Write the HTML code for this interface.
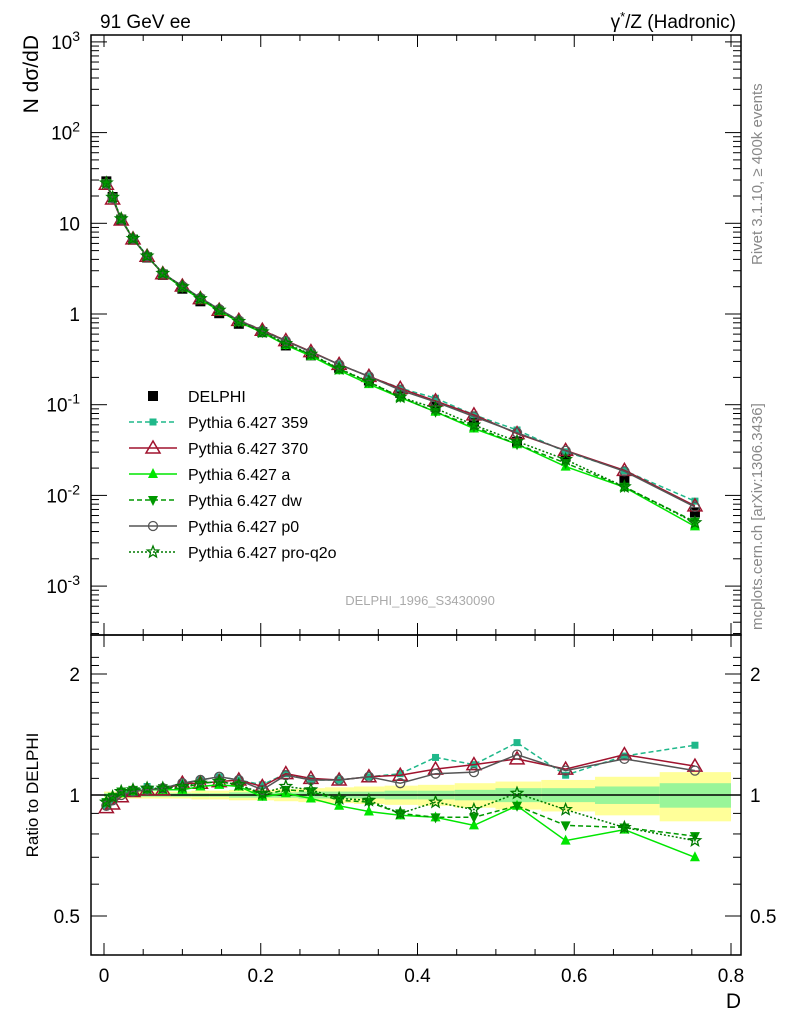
<!DOCTYPE html>
<html><head><meta charset="utf-8"><style>
body{margin:0;background:#fff;}
svg{display:block;font-family:"Liberation Sans",sans-serif;}
</style></head><body>
<svg id="c" width="786" height="1024" viewBox="0 0 786 1024"></svg>
<script>
const D=[0.003,0.011,0.022,0.037,0.055,0.075,0.1,0.123,0.147,0.172,0.202,0.232,0.264,0.3,0.338,0.378,0.423,0.472,0.527,0.589,0.664,0.754];
const dataVals=[29,19.5,11,6.6,4.2,2.7,1.9,1.38,1.02,0.78,0.63,0.45,0.35,0.255,0.185,0.135,0.095,0.065,0.039,0.027,0.015,0.0065];
const r359=[0.94,0.97,1.01,1.03,1.05,1.04,1.07,1.09,1.11,1.09,1.06,1.13,1.09,1.09,1.11,1.13,1.24,1.19,1.35,1.12,1.25,1.33];
const r370=[0.93,0.95,0.99,1.02,1.03,1.03,1.07,1.07,1.08,1.09,1.05,1.13,1.10,1.09,1.11,1.12,1.16,1.19,1.23,1.16,1.26,1.18];
const rA=[0.96,0.99,1.01,1.02,1.03,1.03,1.03,1.05,1.06,1.05,0.99,1.01,0.98,0.94,0.91,0.89,0.88,0.84,0.94,0.77,0.82,0.70];
const rDW=[0.96,0.99,1.02,1.03,1.03,1.04,1.04,1.07,1.08,1.06,1.00,1.03,1.02,0.97,0.96,0.90,0.88,0.88,0.94,0.84,0.83,0.79];
const rP0=[0.94,0.97,1.00,1.02,1.03,1.04,1.07,1.09,1.11,1.09,1.03,1.12,1.09,1.09,1.11,1.07,1.13,1.14,1.26,1.15,1.23,1.15];
const rQ2O=[0.96,0.99,1.02,1.03,1.04,1.04,1.05,1.07,1.08,1.06,1.01,1.05,1.03,0.98,0.97,0.90,0.96,0.92,1.01,0.92,0.83,0.77];
const bandYellow=[0.02,0.02,0.02,0.02,0.02,0.02,0.02,0.025,0.025,0.03,0.03,0.035,0.04,0.045,0.05,0.055,0.06,0.07,0.08,0.09,0.11,0.14];
const bandGreen=[0.01,0.01,0.01,0.01,0.01,0.01,0.01,0.01,0.01,0.015,0.015,0.015,0.02,0.02,0.02,0.025,0.025,0.03,0.04,0.04,0.05,0.07];
const xTicks=[0,0.2,0.4,0.6,0.8];
const yExp=[-3,-2,-1,0,1,2,3];
const rTicks=[0.5,1,2];

const svg=document.getElementById('c');
const NS='http://www.w3.org/2000/svg';
function mk(t,a,p){const e=document.createElementNS(NS,t);for(const k in a)e.setAttribute(k,a[k]);(p||svg).appendChild(e);return e;}
const L=91,R=741,T=35,M=635,B=955;
const X=d=>104+d*783.75;
const Y=v=>314-Math.log10(v)*90.7;
const YR=r=>795-Math.log2(r)*121;

// band
const edges=[0];for(let i=0;i<D.length-1;i++)edges.push((D[i]+D[i+1])/2);edges.push(0.8);
const bg=mk('g',{});
D.forEach((d,i)=>{
 mk('rect',{x:X(edges[i]),y:YR(1+bandYellow[i]),width:X(edges[i+1])-X(edges[i]),height:YR(1-bandYellow[i])-YR(1+bandYellow[i]),fill:'#ffff99'},bg);
 mk('rect',{x:X(edges[i]),y:YR(1+bandGreen[i]),width:X(edges[i+1])-X(edges[i]),height:YR(1-bandGreen[i])-YR(1+bandGreen[i]),fill:'#99f599'},bg);
});
mk('line',{x1:L,x2:R,y1:YR(1),y2:YR(1),stroke:'#000','stroke-width':1.5});

// frames
mk('rect',{x:L,y:T,width:R-L,height:M-T,fill:'none',stroke:'#000','stroke-width':1.5});
mk('rect',{x:L,y:M,width:R-L,height:B-M,fill:'none',stroke:'#000','stroke-width':1.5});

// x ticks
for(let v=0;v<=0.8001;v+=0.05){const maj=Math.abs(v*5-Math.round(v*5))<1e-6;const l=maj?12:6;
 [[M,-1],[T,1],[B,-1],[M,1]].forEach(([y,s])=>mk('line',{x1:X(v),x2:X(v),y1:y,y2:y+s*l,stroke:'#000'}));}
xTicks.forEach(v=>{const t=mk('text',{x:X(v),y:982,'font-size':19,'text-anchor':'middle'});t.textContent=v===0?'0':v.toFixed(1);});
let xl=mk('text',{x:741,y:1008,'font-size':21,'text-anchor':'end'});xl.textContent='D';

// y log ticks
for(let e=-4;e<=3;e++){for(let k=1;k<10;k++){const v=k*Math.pow(10,e);const y=Y(v);if(y<T||y>M)continue;const l=k===1?16:8;
 mk('line',{x1:L,x2:L+l,y1:y,y2:y,stroke:'#000'});mk('line',{x1:R,x2:R-l,y1:y,y2:y,stroke:'#000'});}}
yExp.forEach(e=>{const t=mk('text',{x:80,y:Y(Math.pow(10,e))+7,'font-size':19,'text-anchor':'end'});
 if(e===0)t.textContent='1';else if(e===1)t.textContent='10';else{t.textContent='10';const s=mk('tspan',{dy:-8,'font-size':14},t);s.textContent=String(e);}});
let yt=mk('text',{x:38,y:35,'font-size':21,'text-anchor':'end',transform:'rotate(-90 38 35)'});yt.textContent='N dσ/dD';

// ratio ticks
for(let v=0.4;v<=2.3;v+=0.1){const y=YR(v);if(y<M||y>B)continue;const maj=[0.5,1,2].some(m=>Math.abs(m-v)<1e-6);const l=maj?16:8;
 mk('line',{x1:L,x2:L+l,y1:y,y2:y,stroke:'#000'});mk('line',{x1:R,x2:R-l,y1:y,y2:y,stroke:'#000'});}
rTicks.forEach(v=>{[[80,'end'],[750,'start']].forEach(([x,a])=>{const t=mk('text',{x:x,y:YR(v)+7,'font-size':19,'text-anchor':a});t.textContent=String(v);});});
let rt=mk('text',{x:38,y:795,'font-size':17,'text-anchor':'middle',transform:'rotate(-90 38 795)'});rt.textContent='Ratio to DELPHI';

// marker drawing
function marker(kind,x,y,col,g){
 if(kind==='sq')mk('rect',{x:x-5,y:y-5,width:10,height:10,fill:col},g);
 else if(kind==='sqs')mk('rect',{x:x-3.5,y:y-3.5,width:7,height:7,fill:col},g);
 else if(kind==='tri')mk('polygon',{points:`${x},${y-7} ${x-7},${y+5} ${x+7},${y+5}`,fill:'none',stroke:col,'stroke-width':1.5},g);
 else if(kind==='trif')mk('polygon',{points:`${x},${y-6} ${x-5},${y+4} ${x+5},${y+4}`,fill:col},g);
 else if(kind==='trid')mk('polygon',{points:`${x},${y+6} ${x-5},${y-4} ${x+5},${y-4}`,fill:col},g);
 else if(kind==='circ')mk('circle',{cx:x,cy:y,r:4.5,fill:'none',stroke:col,'stroke-width':1.3},g);
 else if(kind==='star'){let p=[];for(let i=0;i<10;i++){const a=-Math.PI/2+i*Math.PI/5,r=i%2?2.6:6;p.push((x+r*Math.cos(a)).toFixed(1)+','+(y+r*Math.sin(a)).toFixed(1));}mk('polygon',{points:p.join(' '),fill:'none',stroke:col,'stroke-width':1.3},g);}
}
const series=[
 {name:'Pythia 6.427 359',r:r359,col:'#1fb88a',dash:'5,3',m:'sqs',key:'series-359'},
 {name:'Pythia 6.427 370',r:r370,col:'#a0132e',dash:'',m:'tri',key:'series-370'},
 {name:'Pythia 6.427 a',r:rA,col:'#00e600',dash:'',m:'trif',key:'series-a'},
 {name:'Pythia 6.427 dw',r:rDW,col:'#009900',dash:'5,3',m:'trid',key:'series-dw'},
 {name:'Pythia 6.427 p0',r:rP0,col:'#555555',dash:'',m:'circ',key:'series-p0'},
 {name:'Pythia 6.427 pro-q2o',r:rQ2O,col:'#007a00',dash:'2,2',m:'star',key:'series-pro-q2o'}
];
// data points main
const dg=mk('g',{});
D.forEach((d,i)=>marker('sq',X(d),Y(dataVals[i]),'#000',dg));
series.forEach(s=>{
 const g=mk('g',{});
 const pm=D.map((d,i)=>X(d).toFixed(1)+','+Y(dataVals[i]*s.r[i]).toFixed(1)).join(' ');
 mk('polyline',{points:pm,fill:'none',stroke:s.col,'stroke-width':1.5,'stroke-dasharray':s.dash},g);
 D.forEach((d,i)=>marker(s.m,X(d),Y(dataVals[i]*s.r[i]),s.col,g));
 const pr=D.map((d,i)=>X(d).toFixed(1)+','+YR(s.r[i]).toFixed(1)).join(' ');
 mk('polyline',{points:pr,fill:'none',stroke:s.col,'stroke-width':1.5,'stroke-dasharray':s.dash},g);
 D.forEach((d,i)=>marker(s.m,X(d),YR(s.r[i]),s.col,g));
});

// legend
const lg=mk('g',{});
marker('sq',153,396,'#000',lg);
let t0=mk('text',{x:188,y:402,'font-size':16},lg);t0.textContent='DELPHI';
series.forEach((s,i)=>{const y=422+26*i;
 mk('line',{x1:129,x2:177,y1:y,y2:y,stroke:s.col,'stroke-width':1.5,'stroke-dasharray':s.dash},lg);
 marker(s.m,153,y,s.col,lg);
 const t=mk('text',{x:188,y:y+6,'font-size':16},lg);t.textContent=s.name;});

// titles
let a=mk('text',{x:100,y:28,'font-size':19});a.textContent='91 GeV ee';
let b=mk('text',{x:736,y:28,'font-size':19,'text-anchor':'end'});b.innerHTML='γ<tspan dy="-7" font-size="13">*</tspan><tspan dy="7">/Z (Hadronic)</tspan>';
let w=mk('text',{x:420,y:605,'font-size':13,'text-anchor':'middle',fill:'#aaa'});w.textContent='DELPHI_1996_S3430090';
let r1=mk('text',{x:762,y:265,'font-size':15,fill:'#888',transform:'rotate(-90 762 265)'});r1.textContent='Rivet 3.1.10, ≥ 400k events';
let r2=mk('text',{x:762,y:630,'font-size':15,fill:'#888',transform:'rotate(-90 762 630)'});r2.textContent='mcplots.cern.ch [arXiv:1306.3436]';
</script>
</body></html>
